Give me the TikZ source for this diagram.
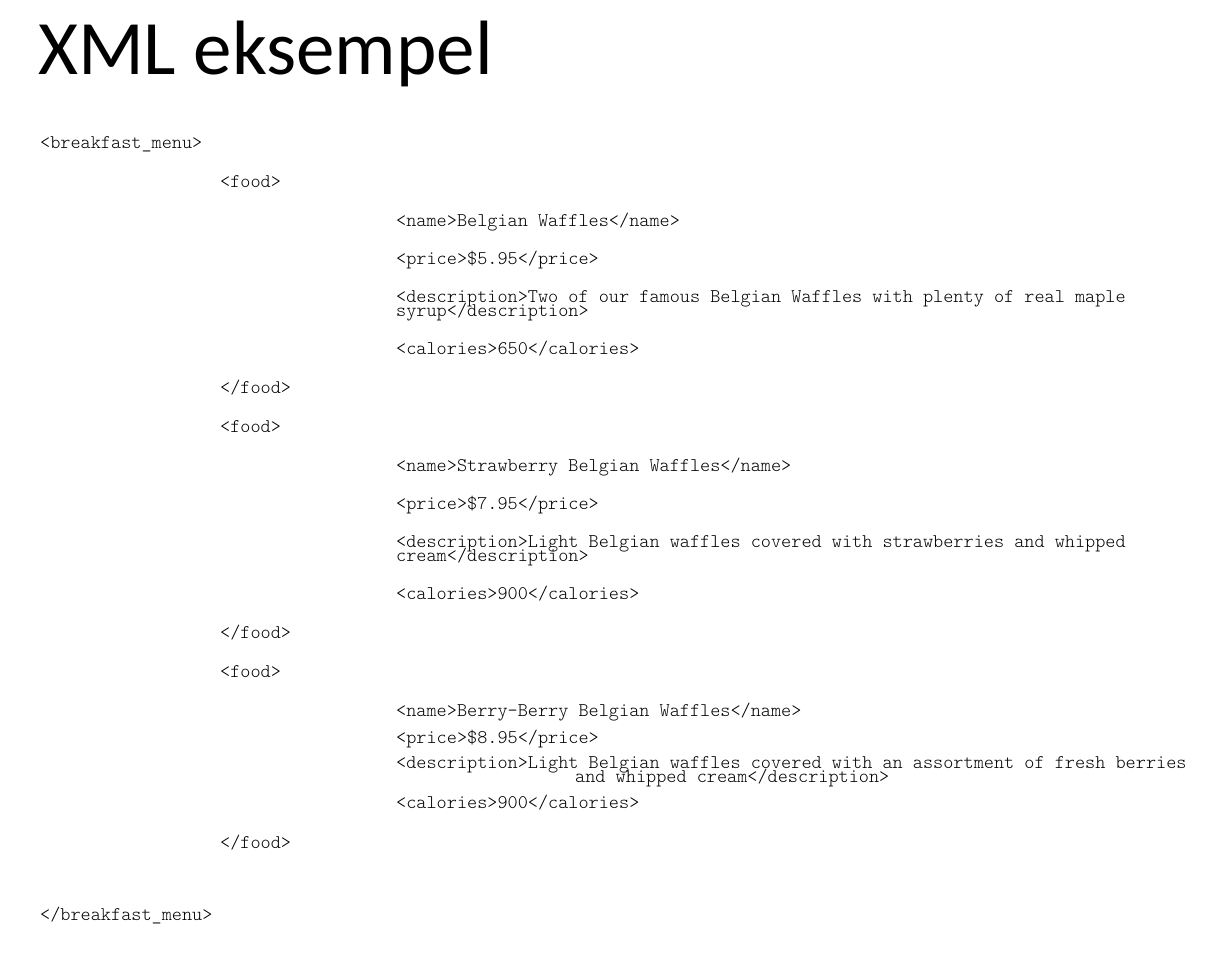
\documentclass[tikz,border=0pt]{standalone}
\usepackage{fontspec}
\newfontfamily\titlefont{Carlito}
\newfontfamily\codefont{Latin Modern Mono Light}
\begin{document}
\begin{tikzpicture}[x=1pt,y=-1pt,
  code/.style={anchor=base west, inner sep=0pt, font=\codefont\fontsize{19.3}{14}\selectfont},
  titletext/.style={anchor=base west, inner sep=0pt, font=\titlefont\fontsize{77}{80}\selectfont}]
\path[use as bounding box, fill=white] (0,0) rectangle (1218,964);
\node[titletext] (title) at (38,74) {XML eksempel};
\node[code] (bm) at (40,148) {<breakfast\_menu>};
% food 1
\node[code] (f1) at (220,187) {<food>};
\node[code] (n1) at (396,226) {<name>Belgian Waffles</name>};
\node[code] (p1) at (396,264) {<price>\$5.95</price>};
\node[code] (d1a) at (396,302) {<description>Two of our famous Belgian Waffles with plenty of real maple};
\node[code] (d1b) at (396,316) {syrup</description>};
\node[code] (c1) at (396,354) {<calories>650</calories>};
\node[code] (e1) at (220,393) {</food>};
% food 2
\node[code] (f2) at (220,432) {<food>};
\node[code] (n2) at (396,471) {<name>Strawberry Belgian Waffles</name>};
\node[code] (p2) at (396,509) {<price>\$7.95</price>};
\node[code] (d2a) at (396,547) {<description>Light Belgian waffles covered with strawberries and whipped};
\node[code] (d2b) at (396,561) {cream</description>};
\node[code] (c2) at (396,599) {<calories>900</calories>};
\node[code] (e2) at (220,638) {</food>};
% food 3
\node[code] (f3) at (220,677) {<food>};
\node[code] (n3) at (396,716) {<name>Berry-Berry Belgian Waffles</name>};
\node[code] (p3) at (396,743) {<price>\$8.95</price>};
\node[code] (d3a) at (396,768) {<description>Light Belgian waffles covered with an assortment of fresh berries};
\node[code] (d3b) at (575,782) {and whipped cream</description>};
\node[code] (c3) at (396,808) {<calories>900</calories>};
\node[code] (e3) at (220,848) {</food>};
\node[code] (ebm) at (40,920) {</breakfast\_menu>};
\end{tikzpicture}
\end{document}
